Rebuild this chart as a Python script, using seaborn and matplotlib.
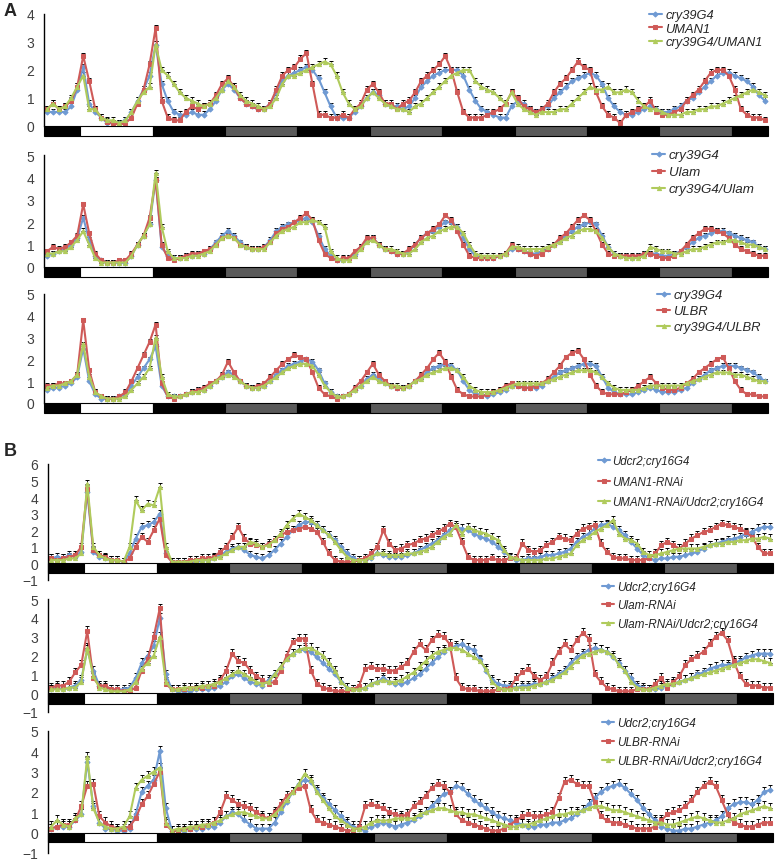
import numpy as np
import seaborn as sns
import matplotlib.pyplot as plt
from matplotlib.patches import Rectangle

sns.set_style('white')
plt.rcParams['font.family'] = ['Liberation Sans', 'DejaVu Sans']

# hourly bins over 5 days
hours = np.arange(120) + 0.5

# light/dark schedule shown under each trace
phase_edges = [0, 6, 18, 30, 42, 54, 66, 78, 90, 102, 114, 120]
phase_shades = ['black', 'white', 'black', '#5a5a5a', 'black', '#5a5a5a',
                'black', '#5a5a5a', 'black', '#5a5a5a', 'black']

# ---- panel A1
a1_labels = ['cry39G4', 'UMAN1', 'cry39G4/UMAN1']
a1_cry = [0.5, 0.5, 0.5, 0.5, 0.7, 1.3, 2.1, 0.8, 0.5, 0.3,
          0.1, 0.1, 0.1, 0.2, 0.5, 0.9, 1.3, 1.8, 2.9, 1.5,
          0.9, 0.5, 0.4, 0.4, 0.5, 0.4, 0.4, 0.6, 0.9, 1.3,
          1.5, 1.3, 1.0, 0.8, 0.7, 0.6, 0.6, 0.8, 1.2, 1.6,
          1.8, 1.9, 2.0, 2.1, 2.0, 1.7, 1.2, 0.7, 0.3, 0.3,
          0.3, 0.5, 0.7, 1.0, 1.2, 1.1, 0.8, 0.7, 0.7, 0.6,
          0.7, 1.0, 1.4, 1.6, 1.8, 1.9, 2.0, 2.0, 2.0, 1.8,
          1.3, 0.9, 0.6, 0.5, 0.4, 0.3, 0.3, 0.7, 0.9, 0.8,
          0.6, 0.5, 0.6, 0.7, 1.0, 1.2, 1.4, 1.6, 1.7, 1.8,
          1.9, 1.8, 1.5, 1.0, 0.7, 0.5, 0.4, 0.4, 0.5, 0.6,
          0.7, 0.6, 0.5, 0.5, 0.6, 0.7, 0.9, 1.0, 1.2, 1.4,
          1.6, 1.8, 1.9, 1.9, 1.8, 1.7, 1.6, 1.4, 1.1, 0.9]
a1_uman = [0.6, 0.8, 0.6, 0.7, 0.9, 1.4, 2.5, 1.6, 0.6, 0.3,
           0.15, 0.1, 0.05, 0.1, 0.3, 0.8, 1.3, 2.2, 3.5, 0.9,
           0.3, 0.2, 0.2, 0.5, 0.7, 0.6, 0.7, 0.8, 1.1, 1.5,
           1.7, 1.4, 1.0, 0.8, 0.7, 0.6, 0.6, 0.8, 1.3, 1.8,
           2.0, 2.1, 2.4, 2.6, 1.5, 0.4, 0.4, 0.3, 0.3, 0.4,
           0.3, 0.6, 0.8, 1.3, 1.5, 1.2, 0.8, 0.8, 0.6, 0.8,
           0.9, 1.2, 1.6, 1.8, 2.0, 2.2, 2.5, 2.0, 1.2, 0.5,
           0.3, 0.3, 0.3, 0.4, 0.5, 0.6, 0.8, 1.2, 1.0, 0.7,
           0.6, 0.5, 0.6, 0.8, 1.2, 1.5, 1.7, 2.0, 2.3, 2.1,
           2.0, 1.2, 0.7, 0.4, 0.3, 0.1, 0.4, 0.5, 0.6, 0.7,
           0.9, 0.5, 0.4, 0.4, 0.5, 0.6, 0.9, 1.1, 1.3, 1.6,
           1.9, 2.0, 2.0, 1.8, 1.3, 0.6, 0.4, 0.3, 0.3, 0.2]
a1_combo = [0.6, 0.8, 0.6, 0.7, 1.0, 1.4, 1.8, 0.6, 0.6, 0.3,
            0.2, 0.2, 0.1, 0.2, 0.5, 0.9, 1.2, 1.4, 2.9, 2.0,
            1.8, 1.5, 1.2, 1.0, 0.9, 0.8, 0.7, 0.8, 1.0, 1.3,
            1.6, 1.4, 1.1, 0.9, 0.8, 0.7, 0.6, 0.7, 1.0, 1.5,
            1.8, 1.8, 1.9, 2.0, 2.1, 2.2, 2.3, 2.2, 1.8, 1.2,
            0.8, 0.6, 0.7, 1.0, 1.2, 1.0, 0.8, 0.7, 0.6, 0.6,
            0.5, 0.7, 0.8, 1.0, 1.2, 1.4, 1.6, 1.8, 1.9, 2.0,
            2.0, 1.6, 1.4, 1.3, 1.2, 1.0, 0.8, 1.2, 0.8, 0.6,
            0.5, 0.4, 0.5, 0.5, 0.5, 0.6, 0.6, 0.8, 1.0, 1.2,
            1.4, 1.3, 1.3, 1.4, 1.2, 1.2, 1.3, 1.2, 0.9, 0.7,
            0.6, 0.6, 0.5, 0.4, 0.4, 0.4, 0.5, 0.5, 0.6, 0.6,
            0.7, 0.7, 0.8, 0.9, 1.0, 1.1, 1.2, 1.3, 1.2, 1.1]

# ---- panel A2
a2_labels = ['cry39G4', 'Ulam', 'cry39G4/Ulam']
a2_cry = [0.5, 0.6, 0.7, 0.8, 1.0, 1.3, 2.2, 1.2, 0.5, 0.3,
          0.2, 0.2, 0.2, 0.2, 0.5, 1.0, 1.4, 1.9, 3.9, 0.9,
          0.5, 0.4, 0.4, 0.5, 0.5, 0.6, 0.6, 0.8, 1.1, 1.4,
          1.6, 1.4, 1.1, 0.9, 0.8, 0.8, 0.9, 1.2, 1.6, 1.8,
          1.9, 2.0, 2.1, 2.2, 2.0, 1.4, 0.8, 0.5, 0.3, 0.3,
          0.4, 0.6, 0.9, 1.2, 1.3, 1.0, 0.8, 0.7, 0.6, 0.6,
          0.7, 1.0, 1.3, 1.5, 1.6, 1.8, 2.0, 2.0, 1.8, 1.3,
          0.8, 0.5, 0.4, 0.4, 0.4, 0.5, 0.6, 0.8, 0.8, 0.7,
          0.6, 0.6, 0.7, 0.8, 1.0, 1.2, 1.4, 1.6, 1.8, 1.9,
          2.0, 1.9, 1.4, 0.9, 0.6, 0.5, 0.5, 0.4, 0.5, 0.6,
          0.6, 0.6, 0.5, 0.5, 0.6, 0.7, 0.9, 1.1, 1.3, 1.4,
          1.5, 1.6, 1.6, 1.5, 1.4, 1.3, 1.2, 1.1, 0.9, 0.8]
a2_ulam = [0.7, 0.9, 0.8, 0.9, 1.1, 1.4, 2.8, 1.5, 0.6, 0.3,
           0.2, 0.2, 0.3, 0.3, 0.6, 1.0, 1.4, 2.2, 3.9, 1.0,
           0.4, 0.3, 0.4, 0.5, 0.6, 0.6, 0.7, 0.8, 1.0, 1.3,
           1.4, 1.3, 1.0, 0.9, 0.8, 0.8, 0.9, 1.1, 1.5, 1.7,
           1.8, 2.0, 2.2, 2.4, 2.1, 1.2, 0.6, 0.4, 0.3, 0.4,
           0.4, 0.7, 0.9, 1.3, 1.3, 1.0, 0.8, 0.7, 0.6, 0.6,
           0.8, 1.0, 1.3, 1.5, 1.7, 1.9, 2.3, 2.1, 1.6, 1.0,
           0.5, 0.4, 0.4, 0.4, 0.4, 0.5, 0.6, 1.0, 0.8, 0.7,
           0.6, 0.5, 0.6, 0.8, 1.0, 1.3, 1.5, 1.8, 2.1, 2.3,
           2.1, 1.6, 1.0, 0.6, 0.5, 0.5, 0.5, 0.5, 0.5, 0.6,
           0.6, 0.5, 0.4, 0.4, 0.5, 0.7, 1.0, 1.3, 1.5, 1.7,
           1.7, 1.6, 1.5, 1.3, 1.0, 0.8, 0.7, 0.6, 0.5, 0.5]
a2_combo = [0.6, 0.6, 0.7, 0.7, 0.9, 1.2, 1.6, 1.0, 0.4, 0.2,
            0.2, 0.2, 0.2, 0.2, 0.5, 1.0, 1.4, 1.9, 4.2, 1.8,
            0.7, 0.4, 0.4, 0.4, 0.5, 0.5, 0.6, 0.7, 1.0, 1.3,
            1.4, 1.3, 1.0, 0.9, 0.8, 0.8, 0.8, 1.1, 1.4, 1.6,
            1.7, 1.8, 2.0, 2.0, 2.1, 2.0, 1.8, 0.7, 0.4, 0.3,
            0.3, 0.5, 0.8, 1.1, 1.2, 1.0, 0.8, 0.8, 0.7, 0.6,
            0.6, 0.8, 1.1, 1.3, 1.4, 1.6, 1.7, 1.8, 1.8, 1.5,
            1.0, 0.6, 0.5, 0.5, 0.5, 0.5, 0.6, 0.9, 0.9, 0.8,
            0.8, 0.8, 0.8, 0.9, 1.0, 1.1, 1.3, 1.4, 1.6, 1.7,
            1.7, 1.6, 1.3, 0.9, 0.6, 0.5, 0.4, 0.4, 0.4, 0.5,
            0.9, 0.8, 0.7, 0.7, 0.6, 0.6, 0.7, 0.8, 0.8, 0.9,
            1.0, 1.1, 1.1, 1.2, 1.2, 1.1, 1.0, 1.0, 0.9, 0.8]

# ---- panel A3
a3_labels = ['cry39G4', 'ULBR', 'cry39G4/ULBR']
a3_cry = [0.6, 0.7, 0.7, 0.8, 0.9, 1.2, 2.5, 1.0, 0.4, 0.2,
          0.2, 0.2, 0.3, 0.4, 0.8, 1.2, 1.6, 2.0, 2.6, 0.8,
          0.3, 0.3, 0.3, 0.4, 0.5, 0.6, 0.6, 0.8, 1.0, 1.2,
          1.4, 1.3, 1.0, 0.8, 0.7, 0.7, 0.8, 1.0, 1.3, 1.5,
          1.7, 1.8, 1.9, 2.0, 1.9, 1.5, 0.9, 0.5, 0.3, 0.3,
          0.4, 0.6, 0.8, 1.1, 1.3, 1.1, 0.9, 0.8, 0.7, 0.7,
          0.8, 1.0, 1.2, 1.4, 1.6, 1.7, 1.8, 1.7, 1.5, 1.0,
          0.6, 0.4, 0.4, 0.3, 0.4, 0.5, 0.6, 0.8, 0.8, 0.7,
          0.7, 0.7, 0.8, 1.0, 1.2, 1.4, 1.5, 1.6, 1.7, 1.8,
          1.8, 1.7, 1.2, 0.7, 0.5, 0.4, 0.4, 0.4, 0.5, 0.6,
          0.7, 0.6, 0.5, 0.5, 0.5, 0.6, 0.7, 0.9, 1.1, 1.3,
          1.5, 1.6, 1.7, 1.7, 1.7, 1.6, 1.5, 1.4, 1.2, 1.0]
a3_ulbr = [0.8, 0.8, 0.9, 0.9, 1.0, 1.3, 3.8, 1.5, 0.5, 0.3,
           0.2, 0.2, 0.3, 0.5, 1.0, 1.6, 2.2, 2.8, 3.6, 0.9,
           0.3, 0.2, 0.3, 0.4, 0.5, 0.6, 0.7, 0.9, 1.0, 1.3,
           1.9, 1.4, 1.0, 0.8, 0.7, 0.8, 0.9, 1.2, 1.5, 1.8,
           2.0, 2.2, 2.1, 2.0, 1.4, 0.7, 0.4, 0.3, 0.2, 0.3,
           0.4, 0.7, 1.0, 1.4, 1.8, 1.3, 1.0, 0.8, 0.7, 0.7,
           0.8, 1.0, 1.3, 1.6, 2.0, 2.3, 1.9, 1.2, 0.6, 0.4,
           0.3, 0.3, 0.3, 0.4, 0.5, 0.6, 0.8, 0.9, 0.8, 0.7,
           0.7, 0.8, 0.9, 1.1, 1.4, 1.7, 2.1, 2.3, 2.4, 2.0,
           1.3, 0.8, 0.5, 0.4, 0.4, 0.4, 0.5, 0.6, 0.8, 1.0,
           1.2, 0.9, 0.7, 0.6, 0.6, 0.7, 0.9, 1.1, 1.4, 1.6,
           1.8, 2.0, 2.1, 1.6, 1.0, 0.6, 0.4, 0.4, 0.3, 0.3]
a3_combo = [0.7, 0.8, 0.8, 0.9, 1.0, 1.3, 2.7, 1.2, 0.5, 0.3,
            0.2, 0.2, 0.2, 0.3, 0.6, 0.9, 1.2, 1.6, 3.0, 1.2,
            0.4, 0.3, 0.3, 0.4, 0.5, 0.5, 0.6, 0.8, 1.0, 1.2,
            1.3, 1.2, 1.0, 0.8, 0.7, 0.7, 0.8, 1.0, 1.2, 1.4,
            1.6, 1.7, 1.8, 1.8, 1.7, 1.3, 0.8, 0.5, 0.3, 0.3,
            0.4, 0.6, 0.8, 1.0, 1.2, 1.0, 0.9, 0.8, 0.8, 0.7,
            0.8, 1.0, 1.1, 1.3, 1.4, 1.5, 1.6, 1.6, 1.5, 1.2,
            0.8, 0.6, 0.5, 0.5, 0.5, 0.6, 0.7, 0.8, 0.9, 0.9,
            0.9, 0.9, 0.9, 1.0, 1.1, 1.2, 1.3, 1.4, 1.5, 1.5,
            1.5, 1.4, 1.2, 0.9, 0.7, 0.6, 0.6, 0.6, 0.6, 0.7,
            0.8, 0.8, 0.8, 0.8, 0.8, 0.8, 0.9, 1.0, 1.1, 1.2,
            1.3, 1.4, 1.4, 1.4, 1.3, 1.3, 1.2, 1.1, 1.0, 1.0]

# ---- panel B1
b1_labels = ['Udcr2;cry16G4', 'UMAN1-RNAi', 'UMAN1-RNAi/Udcr2;cry16G4']
b1_cry = [0.3, 0.4, 0.3, 0.5, 0.4, 0.7, 4.3, 0.7, 0.4, 0.3,
          0.2, 0.2, 0.1, 0.6, 1.5, 2.2, 2.3, 2.5, 3.0, 0.6,
          0.1, 0.1, 0.1, 0.1, 0.1, 0.2, 0.2, 0.3, 0.5, 0.7,
          0.9, 1.0, 0.8, 0.5, 0.4, 0.3, 0.5, 0.8, 1.2, 1.6,
          2.0, 2.3, 2.5, 2.5, 2.3, 2.0, 1.7, 1.4, 1.0, 0.6,
          0.3, 0.2, 0.2, 0.3, 0.6, 0.5, 0.4, 0.4, 0.4, 0.5,
          0.6, 0.8, 1.0, 1.2, 1.4, 1.7, 2.0, 2.2, 2.1, 2.0,
          1.8, 1.6, 1.5, 1.3, 1.0, 0.7, 0.4, 0.2, 0.2, 0.3,
          0.3, 0.4, 0.5, 0.5, 0.6, 0.7, 0.9, 1.3, 1.6, 1.8,
          2.1, 2.3, 2.4, 2.2, 2.0, 1.7, 1.3, 0.9, 0.5, 0.3,
          0.2, 0.3, 0.3, 0.4, 0.4, 0.5, 0.6, 0.7, 0.9, 1.1,
          1.2, 1.3, 1.4, 1.5, 1.6, 1.8, 1.9, 2.1, 2.2, 2.2]
b1_rnai = [0.3, 0.2, 0.3, 0.4, 0.5, 1.0, 4.5, 0.8, 0.5, 0.4,
           0.2, 0.2, 0.1, 0.3, 1.0, 1.6, 1.3, 2.0, 2.7, 0.5,
           0.1, 0.1, 0.1, 0.2, 0.2, 0.3, 0.3, 0.4, 0.7, 1.0,
           1.6, 2.2, 1.5, 1.2, 1.1, 1.0, 1.2, 1.4, 1.7, 1.9,
           2.0, 2.1, 2.2, 2.1, 1.9, 1.3, 0.6, 0.2, 0.1, 0.1,
           0.1, 0.2, 0.3, 0.6, 1.0, 2.0, 1.2, 0.8, 0.9, 1.1,
           1.2, 1.4, 1.5, 1.7, 1.9, 2.1, 2.4, 2.2, 1.3, 0.4,
           0.2, 0.2, 0.2, 0.3, 0.2, 0.2, 0.3, 0.3, 1.2, 0.8,
           0.7, 0.8, 1.1, 1.3, 1.6, 1.5, 1.4, 1.8, 2.1, 2.2,
           2.3, 1.2, 0.7, 0.4, 0.3, 0.3, 0.2, 0.2, 0.2, 0.3,
           0.6, 1.1, 1.3, 1.1, 0.9, 1.2, 1.5, 1.7, 1.9, 2.0,
           2.2, 2.4, 2.3, 2.2, 2.1, 1.9, 1.6, 1.0, 0.6, 0.6]
b1_combo = [0.2, 0.2, 0.2, 0.3, 0.3, 0.6, 4.8, 1.0, 0.5, 0.3,
            0.2, 0.2, 0.1, 1.0, 3.8, 3.2, 3.6, 3.5, 4.6, 1.0,
            0.1, 0.1, 0.1, 0.1, 0.2, 0.2, 0.2, 0.3, 0.4, 0.6,
            0.8, 1.0, 1.0, 1.3, 1.2, 1.0, 1.1, 1.4, 1.8, 2.3,
            2.7, 3.0, 2.8, 2.6, 2.3, 2.0, 1.7, 1.3, 0.8, 0.4,
            0.2, 0.2, 0.2, 0.4, 0.6, 0.6, 0.5, 0.5, 0.5, 0.6,
            0.6, 0.7, 0.8, 1.0, 1.3, 1.6, 1.8, 2.3, 1.8, 2.2,
            2.0, 1.9, 1.8, 1.6, 1.4, 0.8, 0.4, 0.3, 0.2, 0.2,
            0.2, 0.2, 0.3, 0.3, 0.4, 0.5, 0.6, 1.1, 1.4, 1.6,
            1.9, 2.1, 2.3, 2.6, 1.8, 1.5, 1.4, 1.2, 0.7, 0.5,
            0.5, 0.6, 0.7, 0.8, 0.9, 0.9, 0.9, 0.9, 1.0, 1.1,
            1.2, 1.2, 1.3, 1.3, 1.4, 1.4, 1.5, 1.5, 1.6, 1.5]

# ---- panel B2
b2_labels = ['Udcr2;cry16G4', 'Ulam-RNAi', 'Ulam-RNAi/Udcr2;cry16G4']
b2_cry = [0.2, 0.3, 0.2, 0.3, 0.4, 0.7, 2.3, 1.2, 0.4, 0.3,
          0.2, 0.2, 0.2, 0.3, 0.8, 1.6, 2.0, 2.5, 4.0, 1.0,
          0.2, 0.1, 0.1, 0.1, 0.2, 0.2, 0.2, 0.3, 0.4, 0.6,
          0.9, 1.0, 0.8, 0.6, 0.5, 0.4, 0.7, 1.0, 1.4, 1.8,
          2.1, 2.3, 2.3, 2.2, 1.9, 1.6, 1.3, 1.0, 0.6, 0.3,
          0.2, 0.2, 0.3, 0.5, 0.6, 0.8, 0.6, 0.5, 0.5, 0.6,
          0.8, 1.0, 1.3, 1.6, 1.9, 2.2, 2.4, 2.5, 2.6, 2.4,
          2.3, 1.8, 1.2, 0.7, 0.5, 0.4, 0.4, 0.3, 0.4, 0.4,
          0.5, 0.5, 0.6, 0.8, 1.0, 1.2, 1.6, 1.9, 2.1, 2.3,
          2.4, 2.3, 2.2, 1.9, 1.6, 1.2, 0.8, 0.4, 0.3, 0.2,
          0.2, 0.3, 0.4, 0.5, 0.6, 0.7, 0.8, 1.0, 1.1, 1.3,
          1.4, 1.5, 1.5, 1.6, 1.7, 1.9, 2.0, 2.1, 2.1, 2.1]
b2_rnai = [0.3, 0.4, 0.4, 0.6, 1.1, 1.5, 3.3, 0.8, 0.4, 0.4,
           0.2, 0.2, 0.1, 0.1, 0.3, 1.2, 1.8, 3.0, 4.5, 0.5,
           0.2, 0.2, 0.2, 0.3, 0.3, 0.3, 0.4, 0.4, 0.7, 1.2,
           2.1, 1.7, 1.6, 1.2, 0.9, 0.7, 0.5, 0.6, 1.2, 2.0,
           2.7, 2.9, 2.9, 1.2, 0.5, 0.3, 0.2, 0.1, 0.1, 0.1,
           0.2, 0.4, 1.3, 1.4, 1.3, 1.3, 1.2, 1.2, 1.4, 1.6,
           2.2, 2.6, 2.3, 2.8, 3.1, 3.0, 2.6, 0.8, 0.3, 0.2,
           0.2, 0.1, 0.1, 0.1, 0.2, 0.2, 0.3, 0.8, 1.1, 1.3,
           0.9, 0.7, 0.9, 1.6, 2.2, 2.6, 2.3, 2.8, 3.2, 2.9,
           1.0, 0.6, 0.3, 0.2, 0.1, 0.1, 0.1, 0.2, 0.2, 0.2,
           0.5, 0.8, 0.3, 0.6, 0.9, 1.5, 1.8, 2.0, 2.2, 2.6,
           3.0, 3.2, 2.8, 1.7, 0.9, 0.5, 0.4, 0.4, 0.3, 0.3]
b2_combo = [0.2, 0.2, 0.2, 0.3, 0.3, 0.6, 2.4, 0.9, 0.3, 0.2,
            0.1, 0.1, 0.1, 0.2, 0.6, 1.3, 1.6, 2.0, 3.0, 0.6,
            0.2, 0.2, 0.3, 0.3, 0.3, 0.4, 0.4, 0.5, 0.6, 0.8,
            1.0, 1.2, 1.0, 0.8, 0.6, 0.5, 0.6, 1.0, 1.4, 1.8,
            2.1, 2.3, 2.4, 2.4, 2.2, 2.0, 1.6, 1.2, 0.6, 0.3,
            0.2, 0.2, 0.3, 0.5, 0.6, 0.7, 0.6, 0.6, 0.7, 0.9,
            1.1, 1.4, 1.7, 2.0, 2.2, 2.3, 2.4, 2.4, 2.3, 2.1,
            1.9, 1.7, 1.3, 0.6, 0.3, 0.2, 0.2, 0.3, 0.3, 0.3,
            0.4, 0.5, 0.6, 0.7, 0.9, 1.1, 1.4, 1.7, 2.0, 2.1,
            2.2, 2.3, 2.2, 2.0, 1.5, 1.2, 0.6, 0.3, 0.2, 0.2,
            0.3, 0.4, 0.5, 0.5, 0.6, 0.7, 0.8, 0.9, 1.0, 1.1,
            1.2, 1.3, 1.4, 1.5, 1.6, 1.7, 1.8, 1.8, 1.7, 1.6]

# ---- panel B3
b3_labels = ['Udcr2;cry16G4', 'ULBR-RNAi', 'ULBR-RNAi/Udcr2;cry16G4']
b3_cry = [0.2, 0.3, 0.3, 0.3, 0.6, 0.9, 3.5, 1.3, 0.5, 0.2,
          0.2, 0.1, 0.1, 0.2, 0.9, 2.0, 2.3, 2.6, 4.0, 1.2,
          0.1, 0.1, 0.1, 0.2, 0.2, 0.2, 0.3, 0.3, 0.5, 0.8,
          1.0, 0.9, 0.6, 0.4, 0.2, 0.2, 0.2, 0.5, 1.0, 1.5,
          2.0, 2.4, 2.6, 2.5, 2.1, 1.7, 1.4, 1.1, 0.8, 0.5,
          0.3, 0.2, 0.1, 0.3, 0.4, 0.5, 0.4, 0.3, 0.4, 0.5,
          0.6, 0.8, 1.0, 1.3, 1.6, 1.9, 2.0, 2.3, 2.2, 1.9,
          1.6, 1.4, 1.2, 1.0, 0.8, 0.7, 0.6, 0.5, 0.4, 0.3,
          0.3, 0.4, 0.4, 0.5, 0.5, 0.6, 0.7, 0.9, 1.1, 1.4,
          1.7, 2.0, 2.2, 2.3, 2.4, 2.2, 1.9, 1.6, 1.2, 0.9,
          0.6, 0.3, 0.2, 0.1, 0.1, 0.2, 0.2, 0.3, 0.4, 0.5,
          0.6, 0.8, 1.2, 1.4, 1.5, 1.5, 1.4, 1.6, 2.0, 2.1]
b3_rnai = [0.2, 0.3, 0.4, 0.4, 0.6, 1.3, 2.3, 2.4, 0.8, 0.5,
           0.3, 0.2, 0.2, 0.3, 0.7, 1.4, 1.8, 2.4, 3.0, 0.4,
           0.1, 0.1, 0.2, 0.2, 0.3, 0.3, 0.4, 0.5, 1.0, 1.8,
           1.6, 1.4, 1.3, 1.2, 1.0, 0.8, 0.7, 1.0, 1.4, 1.8,
           2.0, 2.2, 2.3, 1.1, 0.6, 0.5, 0.4, 0.3, 0.2, 0.1,
           0.1, 0.3, 1.3, 1.4, 1.3, 1.2, 1.0, 0.9, 0.8, 0.9,
           1.3, 1.5, 1.8, 2.2, 2.4, 2.3, 2.0, 0.9, 0.6, 0.5,
           0.4, 0.3, 0.2, 0.1, 0.1, 0.2, 0.4, 0.6, 0.8, 0.9,
           0.8, 0.8, 0.9, 1.0, 1.7, 2.5, 2.6, 2.4, 2.3, 2.3,
           1.5, 0.8, 0.6, 0.5, 0.5, 0.4, 0.3, 0.2, 0.2, 0.2,
           0.3, 0.6, 0.9, 1.0, 1.1, 1.3, 1.6, 2.0, 2.3, 2.5,
           2.3, 1.6, 0.9, 0.5, 0.4, 0.3, 0.3, 0.4, 0.5, 0.5]
b3_combo = [0.3, 0.6, 0.4, 0.3, 0.7, 0.9, 3.7, 1.2, 0.5, 0.3,
            0.2, 0.2, 0.3, 0.8, 2.2, 2.6, 2.8, 3.0, 3.2, 0.5,
            0.1, 0.2, 0.2, 0.3, 0.3, 0.4, 0.4, 0.5, 0.6, 0.8,
            0.9, 1.0, 1.0, 0.9, 0.8, 0.7, 0.7, 0.9, 1.2, 1.6,
            2.0, 2.4, 2.9, 2.6, 2.0, 1.6, 1.2, 0.8, 0.6, 0.4,
            0.2, 0.2, 0.3, 0.5, 0.6, 0.6, 0.6, 0.7, 0.7, 0.7,
            0.7, 0.9, 1.0, 1.1, 1.2, 1.2, 1.1, 1.0, 1.0, 0.9,
            0.9, 0.8, 0.7, 0.6, 0.5, 0.4, 0.3, 0.3, 0.4, 0.4,
            0.5, 0.6, 0.7, 0.8, 0.9, 0.9, 1.0, 1.0, 1.1, 1.2,
            1.3, 1.3, 1.2, 1.1, 1.1, 1.0, 0.9, 0.8, 0.7, 0.6,
            0.5, 0.5, 0.4, 0.4, 0.5, 0.6, 0.7, 0.8, 0.7, 0.6,
            0.5, 0.5, 0.6, 0.7, 0.9, 1.0, 1.1, 1.2, 1.3, 1.2]

# typical SEM per panel (plus-only error bars)
panel_sem = [0.12, 0.12, 0.12, 0.25, 0.25, 0.25]

W, H = 777, 862
fig = plt.figure(figsize=(W / 100, H / 100), dpi=100)

line_styles = [('#6f9ad3', 'D', 2.6), ('#cf5a58', 's', 2.6), ('#b0cb5c', '^', 3.0)]


def draw_panel(rect_px, series, labels, sem, ylim, bar_depth, leg_xy, leg_size, leg_space):
    left, right, top, bottom = rect_px
    ax = fig.add_axes([left / W, 1 - bottom / H, (right - left) / W, (bottom - top) / H])
    for vals, lab, (col, mk, ms) in zip(series, labels, line_styles):
        n = len(vals)
        ax.errorbar(hours, vals, yerr=[np.zeros(n), np.full(n, sem)], fmt='none',
                    ecolor='black', elinewidth=0.6, capsize=1.2, capthick=0.7, zorder=1)
        sns.lineplot(x=hours, y=vals, ax=ax, color=col, marker=mk, markersize=ms,
                     markeredgecolor=col, linewidth=1.5, label=lab, zorder=2)
    # light/dark bar
    for x0, x1, shade in zip(phase_edges[:-1], phase_edges[1:], phase_shades):
        ax.add_patch(Rectangle((x0, -bar_depth), x1 - x0, bar_depth, facecolor=shade,
                               edgecolor='black', linewidth=0.8, clip_on=False, zorder=3))
    ax.set_xlim(0, 120)
    ax.set_ylim(*ylim)
    ax.set_yticks(range(ylim[0], ylim[1] + 1))
    ax.set_xticks([])
    sns.despine(ax=ax, bottom=True)
    ax.spines['left'].set_linewidth(1.0)
    ax.spines['left'].set_color('black')
    ax.tick_params(axis='y', direction='out', length=3, width=1, labelsize=10,
                   labelcolor='#404040', pad=4)
    ax.set_xlabel('')
    ax.set_ylabel('')
    ax.legend(loc='upper left', bbox_to_anchor=(leg_xy[0] / W, 1 - leg_xy[1] / H),
              bbox_transform=fig.transFigure, frameon=False, borderpad=0, borderaxespad=0,
              handlelength=1.0, handletextpad=0.25, labelspacing=leg_space,
              prop={'style': 'italic', 'size': leg_size})
    return ax


draw_panel((44, 768, 15, 127), [a1_cry, a1_uman, a1_combo], a1_labels, panel_sem[0],
           (0, 4), 0.36, (649, 10), 9.3, 0.12)
draw_panel((44, 768, 156, 268), [a2_cry, a2_ulam, a2_combo], a2_labels, panel_sem[1],
           (0, 5), 0.45, (652, 150), 9.6, 0.35)
draw_panel((44, 768, 295, 404), [a3_cry, a3_ulbr, a3_combo], a3_labels, panel_sem[2],
           (0, 5), 0.46, (657, 290), 9.4, 0.3)
draw_panel((48, 773, 465, 581), [b1_cry, b1_rnai, b1_combo], b1_labels, panel_sem[3],
           (-1, 6), 0.55, (598, 456), 8.3, 0.75)
draw_panel((48, 773, 600, 713), [b2_cry, b2_rnai, b2_combo], b2_labels, panel_sem[4],
           (-1, 5), 0.55, (602, 582), 8.5, 0.55)
draw_panel((48, 773, 732, 854), [b3_cry, b3_rnai, b3_combo], b3_labels, panel_sem[5],
           (-1, 5), 0.48, (602, 718), 8.5, 0.6)

fig.text(4 / W, 1 - 12 / H, 'A', fontsize=13, fontweight='bold', va='center')
fig.text(4 / W, 1 - 452 / H, 'B', fontsize=13, fontweight='bold', va='center')

fig.savefig('out.png', dpi=100)
